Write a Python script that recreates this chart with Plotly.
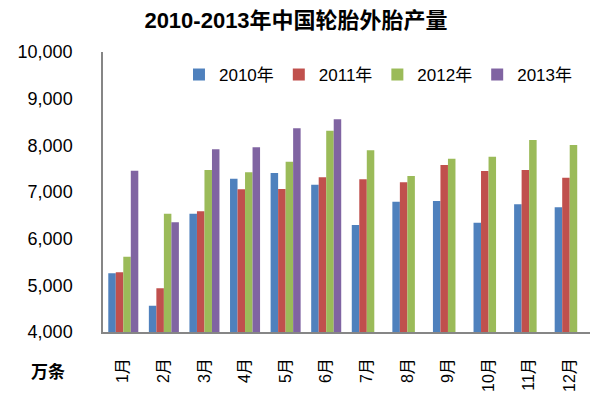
import plotly.graph_objects as go

months = ["1月", "2月", "3月", "4月", "5月", "6月", "7月", "8月", "9月", "10月", "11月", "12月"]
y2010 = [5258, 4564, 6535, 7286, 7407, 7157, 6293, 6793, 6807, 6343, 6736, 6671]
y2011 = [5279, 4936, 6586, 7057, 7064, 7314, 7271, 7207, 7578, 7450, 7471, 7307]
y2012 = [5614, 6535, 7471, 7421, 7650, 8314, 7893, 7343, 7714, 7757, 8114, 8007]
y2013 = [7457, 6350, 7914, 7957, 8364, 8557, None, None, None, None, None, None]

series = [
    ("2010年", y2010, "#4F81BD"),
    ("2011年", y2011, "#C0504D"),
    ("2012年", y2012, "#9BBB59"),
    ("2013年", y2013, "#8064A2"),
]

font_family = "Liberation Sans, Noto Sans CJK SC, sans-serif"

fig = go.Figure()
for name, vals, color in series:
    fig.add_trace(go.Bar(
        name=name, x=months, y=vals, marker_color=color,
        marker_line_width=0,
    ))

fig.update_layout(
    width=600, height=394,
    margin=dict(l=95, r=18, t=44, b=70, autoexpand=False),
    paper_bgcolor="white", plot_bgcolor="white",
    barmode="group", bargap=0.26, bargroupgap=0,
    font=dict(family=font_family, color="#000000"),
    title=dict(
        text="<b>2010-2013年中国轮胎外胎产量</b>",
        x=0.48, xanchor="center", y=0.97, yanchor="middle",
        font=dict(size=22, family=font_family),
    ),
    legend=dict(
        orientation="h", x=0.156, xanchor="left", y=0.918, yanchor="middle",
        font=dict(size=17), bgcolor="rgba(0,0,0,0)",
        itemwidth=30, tracegroupgap=0,
    ),
    showlegend=True,
)

fig.update_yaxes(
    range=[4000, 10000], dtick=1000, tickformat=",d", automargin=False,
    showgrid=False, showline=True, linecolor="#868686", linewidth=1.5,
    ticks="", tickfont=dict(size=18), ticklabelstandoff=25, zeroline=False,
)
fig.update_xaxes(
    showgrid=False, showline=True, linecolor="#868686", linewidth=1.5,
    tickangle=-90, tickfont=dict(size=16), ticks="", automargin=False,
    ticklabelstandoff=18,
)

fig.add_annotation(
    text="<b>万条</b>", xref="paper", yref="paper",
    x=-0.113, y=-0.143, xanchor="center", yanchor="middle",
    showarrow=False, font=dict(size=17, family=font_family),
)

fig.write_html("out.html")
